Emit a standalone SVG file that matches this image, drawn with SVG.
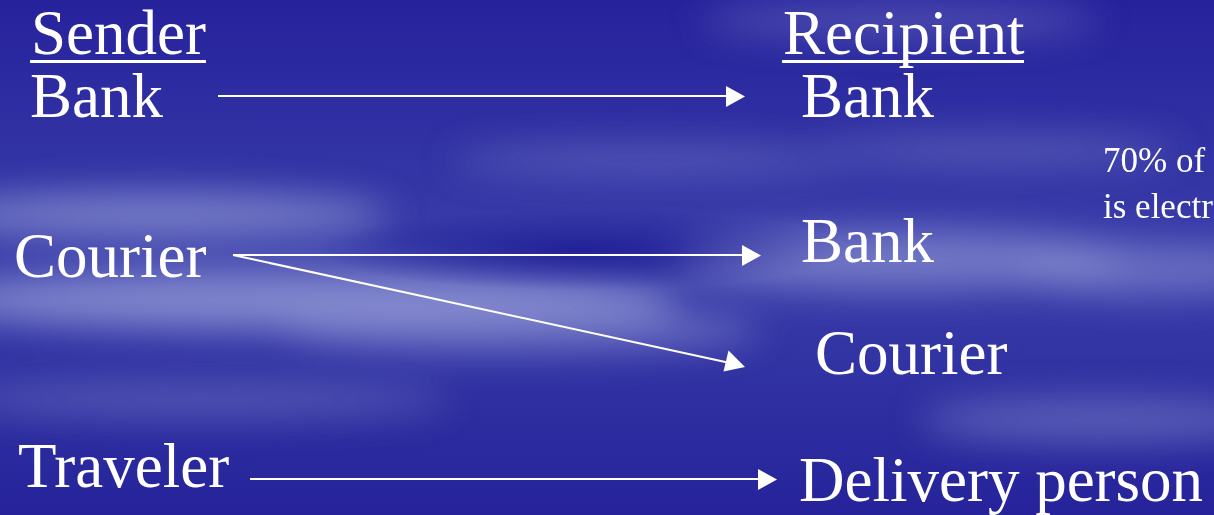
<svg xmlns="http://www.w3.org/2000/svg" width="1214" height="515" viewBox="0 0 1214 515">
<style>
.t{font-family:"Liberation Serif","Times New Roman",serif;fill:#ffffff;font-size:63px}
.s{font-family:"Liberation Serif","Times New Roman",serif;fill:#ffffff;font-size:35px}
.c{stroke:#ffffff;stroke-width:2;fill:none}
.h{fill:#ffffff}
</style>
<defs>
<linearGradient id="bg" x1="0" y1="0" x2="0" y2="1">
<stop offset="0" stop-color="#26229c"/>
<stop offset="0.5" stop-color="#3a3eaa"/>
<stop offset="1" stop-color="#26239a"/>
</linearGradient>
<radialGradient id="dark">
<stop offset="0" stop-color="#1e1c94" stop-opacity="0.85"/>
<stop offset="1" stop-color="#1e1c94" stop-opacity="0"/>
</radialGradient>
<filter id="blur" x="-50%" y="-300%" width="200%" height="700%"><feGaussianBlur stdDeviation="18"/></filter>
</defs>
<g id="background">
<rect width="1214" height="515" fill="url(#bg)"/>
<g filter="url(#blur)" fill="#8a90d0">
<ellipse cx="160" cy="215" rx="230" ry="22" opacity="0.8"/>
<ellipse cx="300" cy="300" rx="380" ry="30" opacity="0.9"/>
<ellipse cx="520" cy="330" rx="240" ry="22" opacity="0.6"/>
<ellipse cx="900" cy="260" rx="230" ry="30" opacity="0.7"/>
<ellipse cx="1150" cy="270" rx="140" ry="25" opacity="0.6"/>
<ellipse cx="1100" cy="420" rx="180" ry="22" opacity="0.5"/>
<ellipse cx="900" cy="20" rx="200" ry="18" opacity="0.4"/>
<ellipse cx="650" cy="160" rx="200" ry="15" opacity="0.4"/>
<ellipse cx="1000" cy="150" rx="180" ry="15" opacity="0.4"/>
<ellipse cx="200" cy="400" rx="250" ry="18" opacity="0.4"/>
</g>
<ellipse cx="580" cy="250" rx="260" ry="40" fill="url(#dark)"/>
</g>
<g id="sender-header">
<text class="t" x="31" y="54">Sender</text>
<rect x="30" y="60" width="176" height="3" fill="#ffffff"/>
</g>
<g id="recipient-header">
<text class="t" x="783" y="54">Recipient</text>
<rect x="782" y="60" width="242" height="3" fill="#ffffff"/>
</g>
<g id="sender-bank"><text class="t" x="30" y="117">Bank</text></g>
<g id="recipient-bank"><text class="t" x="801" y="117">Bank</text></g>
<g id="sender-courier"><text class="t" x="14" y="277">Courier</text></g>
<g id="recipient-bank-2"><text class="t" x="801" y="262">Bank</text></g>
<g id="recipient-courier"><text class="t" x="815" y="374">Courier</text></g>
<g id="sender-traveler"><text class="t" x="18" y="487">Traveler</text></g>
<g id="recipient-delivery"><text class="t" x="799" y="501">Delivery person</text></g>
<g id="note">
<text class="s" x="1103" y="172">70% of</text>
<text class="s" x="1103" y="218">is electr</text>
</g>
<g id="connectors">
<line class="c" x1="218" y1="96" x2="728" y2="96"/>
<path class="h" d="M726,86 L745,96.5 L726,107 Z"/>
<line class="c" x1="233" y1="255" x2="744" y2="255"/>
<path class="h" d="M742,245 L761,255.5 L742,266 Z"/>
<line class="c" x1="233" y1="255" x2="730" y2="363"/>
<path class="h" d="M745,367 L723.5,371.5 L728.5,350.5 Z"/>
<line class="c" x1="250" y1="479" x2="760" y2="479"/>
<path class="h" d="M758,469 L777,479.5 L758,490 Z"/>
</g>
</svg>
